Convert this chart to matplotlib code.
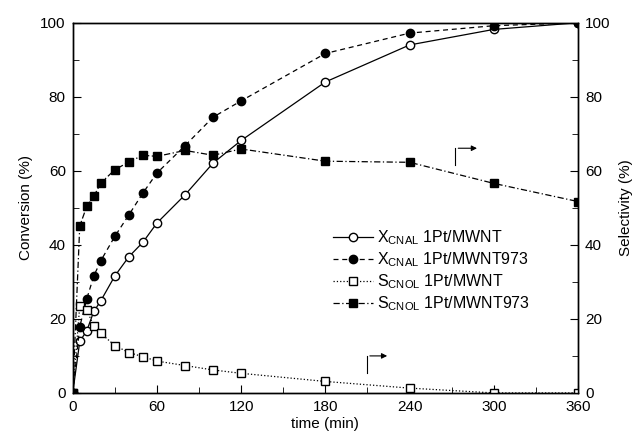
import matplotlib.pyplot as plt
from matplotlib.ticker import MultipleLocator

plt.rcParams['font.family'] = ['Liberation Sans', 'DejaVu Sans']
plt.rcParams['mathtext.fontset'] = 'custom'
plt.rcParams['mathtext.rm'] = 'Liberation Sans'
plt.rcParams['mathtext.it'] = 'Liberation Sans'

# time points (min)
t = [0, 5, 10, 15, 20, 30, 40, 50, 60, 80, 100, 120, 180, 240, 300, 360]

# conversion of CNAL (%)
x_mwnt = [0, 13.9, 16.8, 22.0, 24.9, 31.6, 36.8, 40.7, 45.9, 53.5, 62.1, 68.2, 84.0, 94.0, 98.2, 100]
x_mwnt973 = [0, 17.9, 25.4, 31.6, 35.7, 42.3, 48.1, 54.0, 59.4, 66.8, 74.5, 78.9, 91.7, 97.2, 99.2, 100]

# selectivity to CNOL (%)
s_mwnt = [0, 23.5, 22.4, 18.1, 16.1, 12.8, 10.9, 9.8, 8.6, 7.4, 6.2, 5.3, 3.1, 1.3, 0, 0]
s_mwnt973 = [0, 45.1, 50.4, 53.1, 56.7, 60.3, 62.4, 64.2, 63.9, 65.5, 64.2, 65.9, 62.6, 62.3, 56.6, 51.7]

fig = plt.figure(figsize=(6.38, 4.46), dpi=100)
ax = fig.add_axes([0.114, 0.119, 0.792, 0.83])
ax2 = ax.twinx()

ms = 6
l1, = ax.plot(t, x_mwnt, 'k-', marker='o', mfc='white', mec='black', ms=ms, lw=0.9,
              label=r'X$_{\rm CNAL}$ 1Pt/MWNT', zorder=3)
l2, = ax.plot(t, x_mwnt973, 'k--', marker='o', mfc='black', mec='black', ms=ms, lw=0.9,
              dashes=(4, 3), label=r'X$_{\rm CNAL}$ 1Pt/MWNT973', zorder=3)
l3, = ax2.plot(t, s_mwnt, 'k:', marker='s', mfc='white', mec='black', ms=ms, lw=0.9,
               label=r'S$_{\rm CNOL}$ 1Pt/MWNT')
l4, = ax2.plot(t, s_mwnt973, 'k-.', marker='s', mfc='black', mec='black', ms=ms, lw=0.9,
               dashes=(5, 2, 1, 2), label=r'S$_{\rm CNOL}$ 1Pt/MWNT973')

for a in (ax, ax2):
    a.set_xlim(0, 360)
    a.set_ylim(0, 100)
    a.yaxis.set_major_locator(MultipleLocator(20))
    a.yaxis.set_minor_locator(MultipleLocator(10))
    a.tick_params(which='both', direction='in', labelsize=11, pad=5)
    a.tick_params(which='major', length=6)
    a.tick_params(which='minor', length=4)

ax.xaxis.set_major_locator(MultipleLocator(60))
ax.xaxis.set_minor_locator(MultipleLocator(30))
ax.tick_params(axis='x', top=False, which='both', pad=5)

ax.set_xlabel('time (min)', fontsize=11, labelpad=2)
ax.set_ylabel('Conversion (%)', fontsize=11, labelpad=5)
ax2.set_ylabel('Selectivity (%)', fontsize=11, labelpad=6)

# arrows showing which axis the selectivity curves belong to
ax2.annotate('', xy=(290, 66.1), xytext=(272.7, 66.1),
             arrowprops=dict(arrowstyle='-|>', color='black', lw=0.8, mutation_scale=8))
ax2.plot([272.7, 272.7], [61.6, 66.1], color='black', lw=0.8)
ax2.annotate('', xy=(226, 10), xytext=(209.7, 10),
             arrowprops=dict(arrowstyle='-|>', color='black', lw=0.8, mutation_scale=8))
ax2.plot([209.7, 209.7], [5.3, 10], color='black', lw=0.8)

ax2.legend(handles=[l1, l2, l3, l4], loc='center', bbox_to_anchor=(0.71, 0.33),
           frameon=False, fontsize=11.5, handlelength=2.5, handletextpad=0.3,
           labelspacing=0.2, borderpad=0)

for a in (ax, ax2):
    for s in a.spines.values():
        s.set_linewidth(1.0)

fig.savefig('out.png', dpi=100)
